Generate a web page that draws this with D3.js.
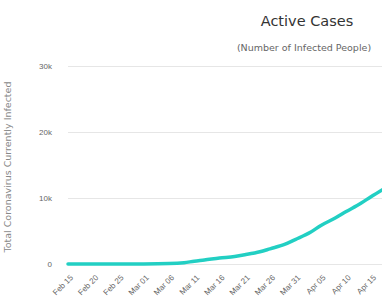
<!DOCTYPE html>
<html>
<head>
<meta charset="utf-8">
<script src="https://cdn.jsdelivr.net/npm/d3@7"></script>
<style>
  html, body { margin: 0; padding: 0; background: #fff; overflow: hidden; }
  svg { display: block; font-family: 'DejaVu Sans', sans-serif; }
</style>
</head>
<body>
<svg id="chart" width="620" height="308"></svg>
<script>
// data (active cases)
const dates = ['2020-02-15', '2020-02-20', '2020-02-25', '2020-03-01', '2020-03-06', '2020-03-09',
  '2020-03-11', '2020-03-13', '2020-03-16', '2020-03-19', '2020-03-21', '2020-03-24', '2020-03-26',
  '2020-03-29', '2020-03-31', '2020-04-03', '2020-04-05', '2020-04-08', '2020-04-10', '2020-04-13',
  '2020-04-15', '2020-04-18', '2020-04-20'];
const activeCases = [0, 0, 0, 10, 60, 200, 420, 600, 900, 1150, 1400, 1850, 2300, 3000, 3700,
  4800, 5800, 7000, 7900, 9200, 10200, 11600, 12500];
const tickLabels = ['Feb 15', 'Feb 20', 'Feb 25', 'Mar 01', 'Mar 06', 'Mar 11', 'Mar 16', 'Mar 21',
  'Mar 26', 'Mar 31', 'Apr 05', 'Apr 10', 'Apr 15', 'Apr 20'];
const yTicks = [0, 10000, 20000, 30000];

(function() {
  let svg = d3.select('#chart');
  let parse = d3.timeParse('%Y-%m-%d');
  let tickParse = d3.timeParse('%b %d %Y');

  let left = 68, top = 66, plotHeight = 198;
  let pxPerDay = 5.05;

  let start = parse(dates[0]);
  let end = d3.timeDay.offset(start, 108);
  let xScale = d3.scaleTime()
    .domain([start, end])
    .range([0, 108 * pxPerDay]);
  let yScale = d3.scaleLinear()
    .domain([0, 30000])
    .range([plotHeight, 0]);

  // titles
  svg.append('text')
    .attr('x', 307).attr('y', 26)
    .attr('text-anchor', 'middle')
    .attr('font-size', '14.5px')
    .attr('fill', '#333')
    .text('Active Cases');
  svg.append('text')
    .attr('x', 304).attr('y', 51)
    .attr('text-anchor', 'middle')
    .attr('font-size', '9.5px')
    .attr('fill', '#666')
    .text('(Number of Infected People)');

  let g = svg.append('g')
    .attr('transform', `translate(${left}, ${top})`);

  // y axis gridlines + labels
  let yAxis = g.append('g')
    .call(d3.axisLeft(yScale).tickValues(yTicks)
      .tickSize(-700)
      .tickFormat((d) => d === 0 ? '0' : (d / 1000) + 'k'));
  yAxis.select('.domain').remove();
  yAxis.selectAll('line').attr('stroke', '#e6e6e6');
  yAxis.selectAll('text')
    .attr('x', -16)
    .attr('fill', '#666')
    .attr('font-size', '8px');

  svg.append('text')
    .attr('transform', 'rotate(-90)')
    .attr('x', -167).attr('y', 11)
    .attr('text-anchor', 'middle')
    .attr('font-size', '9.5px')
    .attr('fill', '#888')
    .text('Total Coronavirus Currently Infected');

  // x axis labels
  let tickDates = tickLabels.map((t) => tickParse(t + ' 2020'));
  let xAxis = g.append('g')
    .attr('transform', `translate(0, ${plotHeight})`)
    .call(d3.axisBottom(xScale).tickValues(tickDates)
      .tickSize(0)
      .tickFormat((d, i) => tickLabels[i]));
  xAxis.select('.domain').remove();
  xAxis.selectAll('text')
    .attr('fill', '#666')
    .attr('font-size', '8px')
    .attr('text-anchor', 'end')
    .attr('dy', 0)
    .attr('transform', 'translate(3, 12) rotate(-45)');

  let data = dates.map((d, i) => ({ date: parse(d), value: activeCases[i] }));
  let line = d3.line()
    .curve(d3.curveMonotoneX)
    .x((d) => xScale(d.date))
    .y((d) => yScale(d.value));

  g.append('path')
    .datum(data)
    .attr('fill', 'none')
    .attr('stroke', '#22cfc3')
    .attr('stroke-width', 3.5)
    .attr('stroke-linecap', 'round')
    .attr('d', line);
})();
</script>
</body>
</html>
